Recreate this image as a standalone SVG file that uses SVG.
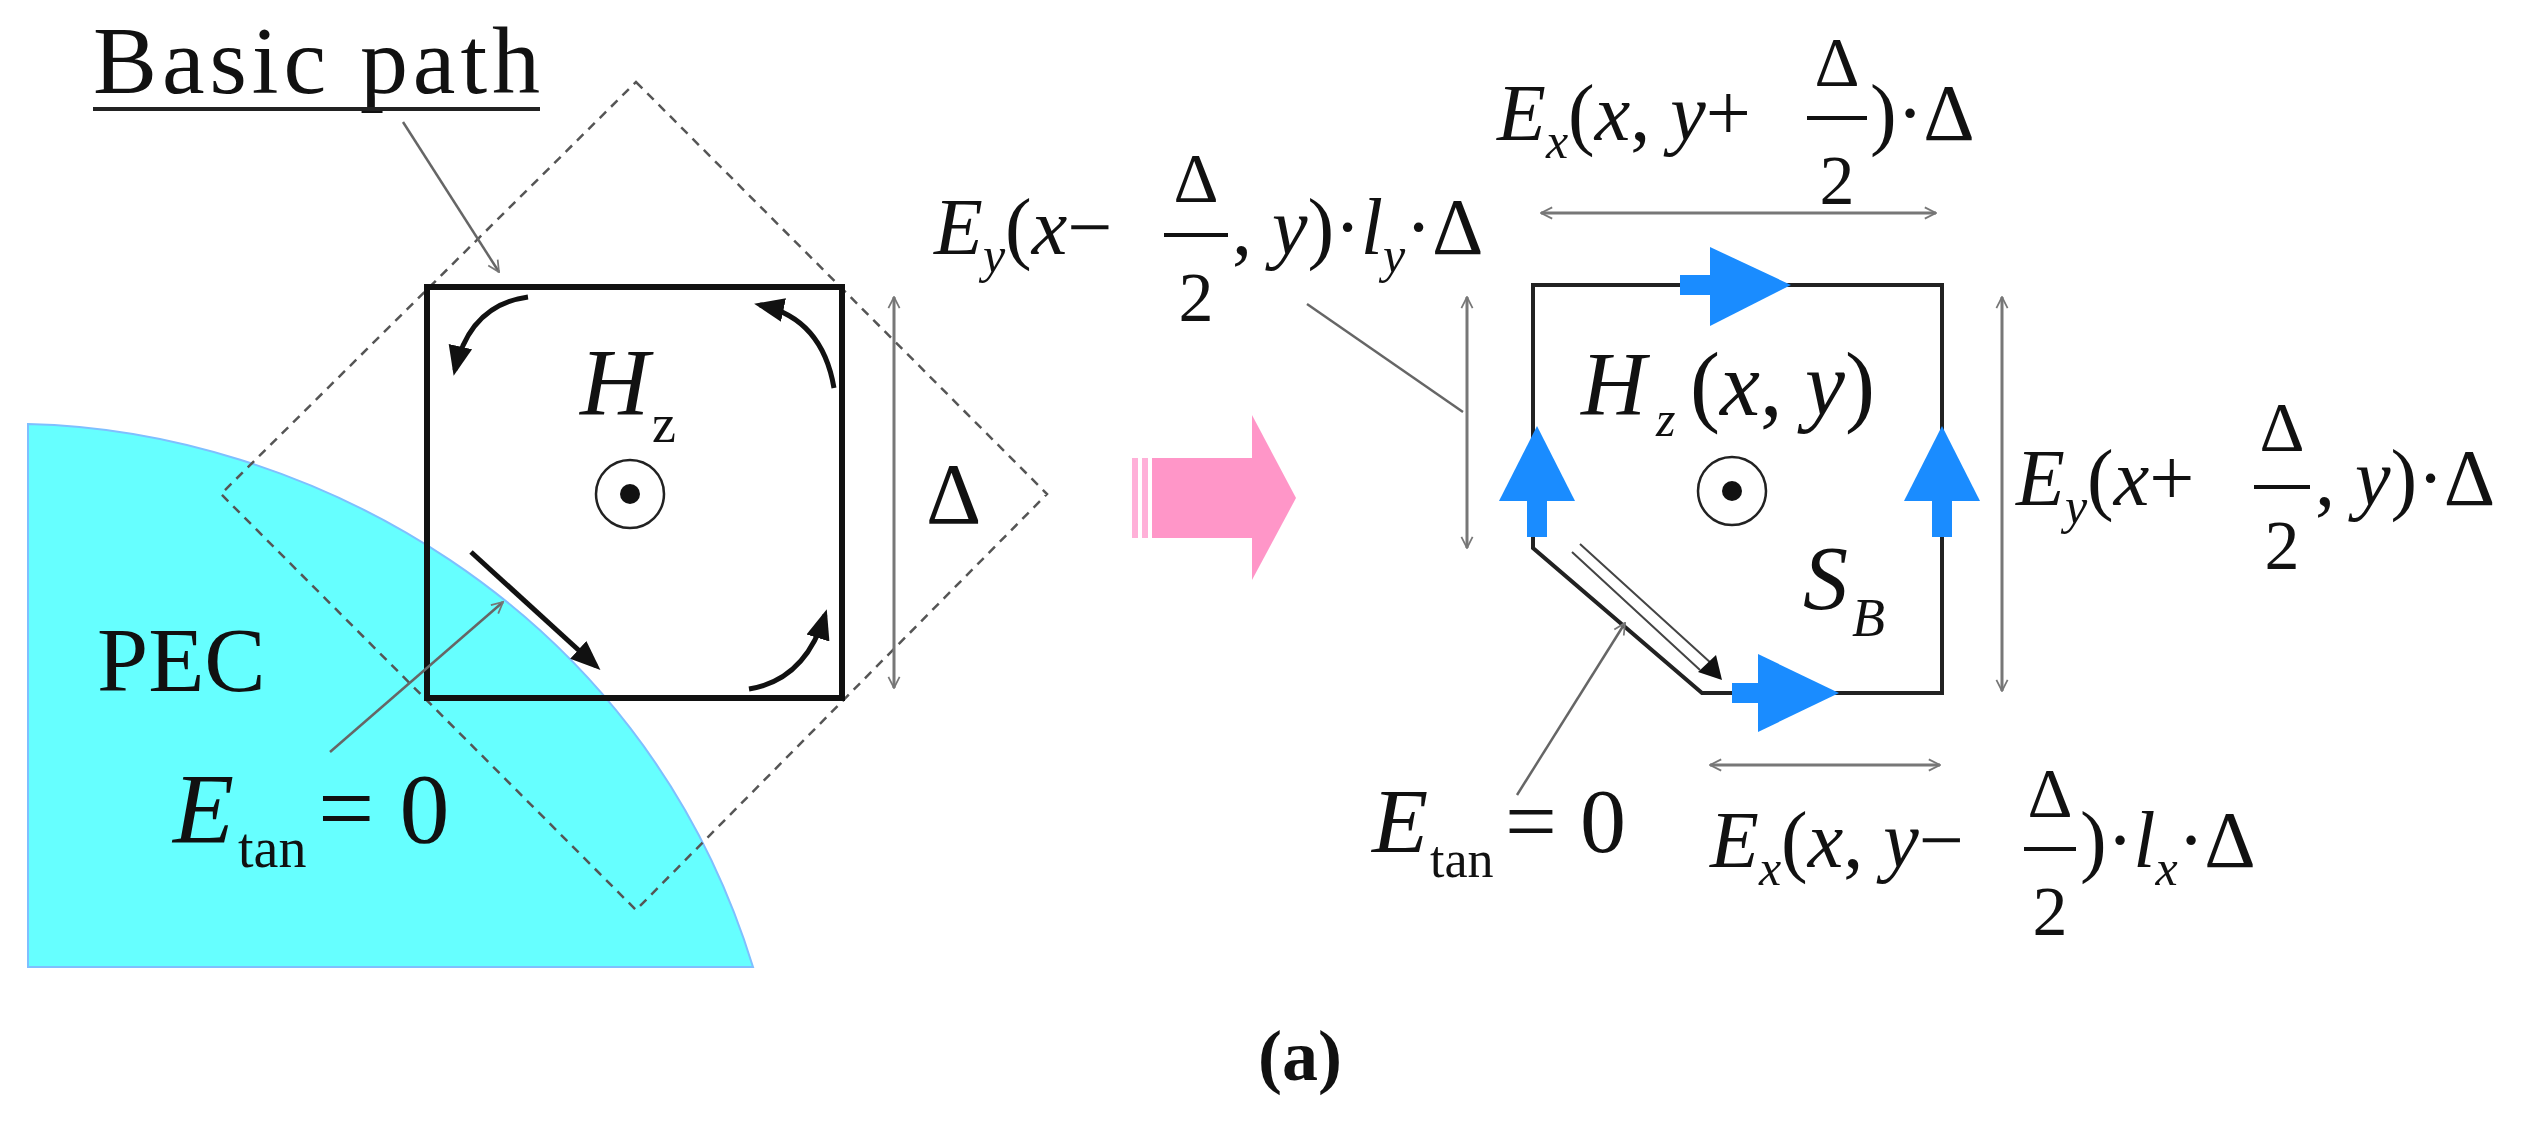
<svg xmlns="http://www.w3.org/2000/svg" width="2526" height="1123" viewBox="0 0 2526 1123">
<style>
.t{font-family:"Liberation Serif",serif;fill:#111}
.i{font-style:italic}
.m{font-size:80px}
.s{font-size:50px}
.f{font-size:70px}
.dim{stroke:#777;stroke-width:3;fill:none}
.thin{stroke:#666;stroke-width:2.5;fill:none}
.blk{stroke:#111;stroke-width:5;fill:none}
</style>
<defs>
<marker id="open" viewBox="0 0 20 20" refX="18" refY="10" markerWidth="14" markerHeight="14" markerUnits="userSpaceOnUse" orient="auto-start-reverse"><path d="M2,2 L18,10 L2,18" fill="none" stroke="#777" stroke-width="2.5"/></marker>
<marker id="solid" viewBox="0 0 20 20" refX="16" refY="10" markerWidth="30" markerHeight="30" markerUnits="userSpaceOnUse" orient="auto"><path d="M0,2 L20,10 L0,18 z" fill="#111"/></marker>
</defs>
<rect width="2526" height="1123" fill="#fff"/>
<g id="pec">
<path d="M28,424 C300,430 640,600 753,967 L28,967 Z" fill="#66ffff" stroke="#7fbfff" stroke-width="2"/>
<text class="t" x="97" y="691" font-size="92">PEC</text>
</g>
<g id="basic-path">
<polygon points="636,82 1047,494 636,910 221,494" fill="none" stroke="#555" stroke-width="2.5" stroke-dasharray="9,7"/>
<rect x="427" y="287" width="415" height="411" fill="none" stroke="#111" stroke-width="6"/>
<text class="t" x="93" y="93" font-size="96" textLength="447">Basic path</text>
<line x1="93" y1="109" x2="540" y2="109" stroke="#222" stroke-width="4"/>
<text class="t i" x="580" y="415" font-size="96">H</text>
<text class="t" x="652" y="442" font-size="54">z</text>
<circle cx="630" cy="494" r="34" fill="none" stroke="#222" stroke-width="2.5"/>
<circle cx="630" cy="494" r="10" fill="#111"/>
<text class="t" x="926" y="523" font-size="86">Δ</text>
<text class="t i" x="173" y="842" font-size="100">E</text>
<text class="t" x="238" y="867" font-size="56">tan</text>
<text class="t" x="318" y="842" font-size="100">= 0</text>
</g>
<g id="right-path">
<path d="M1533,548 L1533,285 L1942,285 L1942,693 L1702,693 Z" fill="none" stroke="#222" stroke-width="4"/>
<g fill="#1a8cff">
<rect x="1680" y="275" width="34" height="20"/><path d="M1710,247 L1791,285 L1710,326 Z"/>
<rect x="1527" y="497" width="20" height="40"/><path d="M1499,501 L1537,426 L1575,501 Z"/>
<rect x="1932" y="497" width="20" height="40"/><path d="M1904,501 L1942,426 L1980,501 Z"/>
<rect x="1732" y="683" width="30" height="20"/><path d="M1758,654 L1839,693 L1758,732 Z"/>
</g>
<path d="M1580,544 L1712,664 M1572,552 L1700,670" stroke="#444" stroke-width="2" fill="none"/>
<path d="M1722,680 L1716,655 L1698,672 Z" fill="#111"/>
<text class="t i" x="1581" y="415" font-size="90">H</text>
<text class="t i" x="1656" y="436" font-size="50">z</text>
<text class="t" x="1690" y="415" font-size="90">(<tspan class="i">x</tspan>, <tspan class="i">y</tspan>)</text>
<circle cx="1732" cy="491" r="34" fill="none" stroke="#222" stroke-width="2.5"/>
<circle cx="1732" cy="491" r="10" fill="#111"/>
<text class="t i" x="1803" y="609" font-size="90">S</text>
<text class="t i" x="1852" y="636" font-size="54">B</text>
<text class="t i" x="1372" y="852" font-size="92">E</text>
<text class="t" x="1430" y="877" font-size="52">tan</text>
<text class="t" x="1505" y="852" font-size="92">= 0</text>
</g>
<g id="arrow-pink">
<rect x="1132" y="458" width="6" height="80" fill="#ffb0d8"/>
<rect x="1142" y="458" width="6" height="80" fill="#ffb0d8"/>
<rect x="1152" y="458" width="102" height="80" fill="#ff96c8"/>
<path d="M1252,415 L1296,498 L1252,580 Z" fill="#ff96c8"/>
</g>
<g id="formulas">
<text class="t m" x="1497" y="140"><tspan class="i">E</tspan><tspan class="i s" dy="18">x</tspan><tspan dy="-18">(<tspan class="i">x</tspan>, <tspan class="i">y</tspan>+</tspan></text>
<text class="t f" x="1837" y="86" text-anchor="middle">Δ</text>
<line x1="1807" y1="118" x2="1867" y2="118" stroke="#111" stroke-width="4"/>
<text class="t f" x="1837" y="204" text-anchor="middle">2</text>
<text class="t m" x="1870" y="140">)·Δ</text>

<text class="t m" x="1710" y="867"><tspan class="i">E</tspan><tspan class="i s" dy="18">x</tspan><tspan dy="-18">(<tspan class="i">x</tspan>, <tspan class="i">y</tspan>−</tspan></text>
<text class="t f" x="2050" y="817" text-anchor="middle">Δ</text>
<line x1="2024" y1="849" x2="2076" y2="849" stroke="#111" stroke-width="4"/>
<text class="t f" x="2050" y="935" text-anchor="middle">2</text>
<text class="t m" x="2080" y="867">)·<tspan class="i">l</tspan><tspan class="i s" dy="18">x</tspan><tspan dy="-18">·Δ</tspan></text>

<text class="t m" x="2016" y="505"><tspan class="i">E</tspan><tspan class="i s" dy="18">y</tspan><tspan dy="-18">(<tspan class="i">x</tspan>+</tspan></text>
<text class="t f" x="2282" y="451" text-anchor="middle">Δ</text>
<line x1="2254" y1="487" x2="2310" y2="487" stroke="#111" stroke-width="4"/>
<text class="t f" x="2282" y="569" text-anchor="middle">2</text>
<text class="t m" x="2315" y="505">, <tspan class="i">y</tspan>)·Δ</text>

<text class="t m" x="934" y="254"><tspan class="i">E</tspan><tspan class="i s" dy="18">y</tspan><tspan dy="-18">(<tspan class="i">x</tspan>−</tspan></text>
<text class="t f" x="1196" y="202" text-anchor="middle">Δ</text>
<line x1="1164" y1="235" x2="1228" y2="235" stroke="#111" stroke-width="4"/>
<text class="t f" x="1196" y="321" text-anchor="middle">2</text>
<text class="t m" x="1232" y="254">, <tspan class="i">y</tspan>)·<tspan class="i">l</tspan><tspan class="i s" dy="18">y</tspan><tspan dy="-18">·Δ</tspan></text>

<text x="1300" y="1080" text-anchor="middle" font-family="Liberation Serif,serif" font-weight="bold" font-size="72" fill="#111">(a)</text>
</g>
<g id="connectors">
<line class="thin" x1="403" y1="122" x2="499" y2="272" marker-end="url(#open)"/>
<line class="thin" x1="330" y1="752" x2="503" y2="602" marker-end="url(#open)" stroke="#4a8a8a"/>
<line class="dim" x1="894" y1="297" x2="894" y2="688" marker-start="url(#open)" marker-end="url(#open)"/>
<path class="blk" d="M528,297 Q470,305 455,370" marker-end="url(#solid)"/>
<path class="blk" d="M834,388 Q822,318 760,305" marker-end="url(#solid)"/>
<path class="blk" d="M749,689 Q805,680 825,615" marker-end="url(#solid)"/>
<line class="blk" x1="471" y1="552" x2="596" y2="666" marker-end="url(#solid)"/>
<line class="dim" x1="1467" y1="297" x2="1467" y2="548" marker-start="url(#open)" marker-end="url(#open)"/>
<line class="thin" x1="1307" y1="304" x2="1463" y2="412"/>
<line class="dim" x1="1541" y1="213" x2="1936" y2="213" marker-start="url(#open)" marker-end="url(#open)"/>
<line class="dim" x1="2002" y1="297" x2="2002" y2="691" marker-start="url(#open)" marker-end="url(#open)"/>
<line class="dim" x1="1710" y1="765" x2="1940" y2="765" marker-start="url(#open)" marker-end="url(#open)"/>
<line class="thin" x1="1517" y1="795" x2="1625" y2="623" marker-end="url(#open)"/>
</g>
</svg>
